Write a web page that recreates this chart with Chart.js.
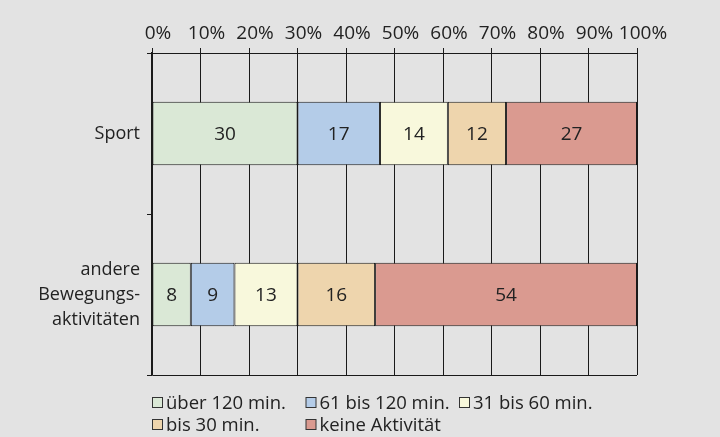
<!DOCTYPE html>
<html>
<head>
<meta charset="utf-8">
<script src="https://cdn.jsdelivr.net/npm/chart.js@4.4.1/dist/chart.umd.min.js"></script>
<style>
  html, body { margin: 0; padding: 0; background: #e3e3e3; }
  #wrap { width: 720px; height: 437px; }
</style>
</head>
<body>
<div id="wrap"><canvas id="c" width="720" height="437"></canvas></div>
<script>
const categories = ['Sport', ['andere', 'Bewegungs-', 'aktivitäten']];
const seriesNames = ['über 120 min.', '61 bis 120 min.', '31 bis 60 min.', 'bis 30 min.', 'keine Aktivität'];
const over120 = [30, 8];
const from61to120 = [17, 9];
const from31to60 = [14, 13];
const upTo30 = [12, 16];
const noActivity = [27, 54];
const xTickValues = [0, 10, 20, 30, 40, 50, 60, 70, 80, 90, 100];

const colors = ['#dae8d6', '#b4cce8', '#f8f8dc', '#eed5ad', '#da9a90'];
const FONT = '"Open Sans", "Noto Sans", sans-serif';
const TEXT = '#222222';
const LINE = '#1a1a1a';

const seriesValues = [over120, from61to120, from31to60, upTo30, noActivity];

const datasets = seriesValues.map((vals, i) => ({
  label: seriesNames[i],
  data: vals,
  backgroundColor: colors[i],
  borderColor: LINE,
  borderWidth: 1,
  borderSkipped: false,
  categoryPercentage: 1,
  barPercentage: 0.395
}));

const valueLabels = {
  id: 'valueLabels',
  afterDatasetsDraw(chart) {
    const ctx = chart.ctx;
    ctx.save();
    ctx.font = '19px ' + FONT;
    ctx.fillStyle = TEXT;
    ctx.textAlign = 'center';
    ctx.textBaseline = 'middle';
    chart.data.datasets.forEach((ds, di) => {
      const meta = chart.getDatasetMeta(di);
      meta.data.forEach((el, i) => {
        const p = el.getCenterPoint();
        ctx.fillText(String(ds.data[i]), p.x, p.y + 1);
      });
    });
    ctx.restore();
  }
};

const gridLegend = {
  id: 'gridLegend',
  afterDraw(chart) {
    const ctx = chart.ctx;
    const area = chart.chartArea;
    const colW = 153.5;
    const rowH = 22;
    const x0 = area.left;
    const y0 = area.bottom + 28;
    ctx.save();
    ctx.font = '18.5px ' + FONT;
    ctx.textBaseline = 'middle';
    ctx.textAlign = 'left';
    chart.data.datasets.forEach((ds, i) => {
      const col = i % 3, row = Math.floor(i / 3);
      const x = x0 + col * colW;
      const y = y0 + row * rowH;
      ctx.fillStyle = ds.backgroundColor;
      ctx.fillRect(x + 0.5, y - 5.5, 10, 10);
      ctx.strokeStyle = '#333';
      ctx.lineWidth = 1;
      ctx.strokeRect(x + 0.5, y - 5.5, 10, 10);
      ctx.fillStyle = TEXT;
      ctx.fillText(ds.label, x + 14, y + 1);
    });
    ctx.restore();
  }
};

new Chart(document.getElementById('c'), {
  type: 'bar',
  data: { labels: categories, datasets },
  options: {
    indexAxis: 'y',
    responsive: false,
    animation: false,
    layout: { padding: { left: 0, right: 83, top: 0, bottom: 62 } },
    plugins: {
      legend: { display: false },
      tooltip: { enabled: false }
    },
    scales: {
      x: {
        type: 'linear',
        position: 'top',
        stacked: true,
        min: 0,
        max: 100,
        afterBuildTicks(scale) { scale.ticks = xTickValues.map(v => ({ value: v })); },
        afterFit(scale) { scale.height = 53; },
        ticks: {
          callback: v => v + '%',
          color: TEXT,
          font: { family: FONT, size: 19 },
          padding: 3,
          labelOffset: 6,
          maxRotation: 0,
          autoSkip: false
        },
        grid: { color: LINE, lineWidth: 1, tickLength: 5, drawOnChartArea: true },
        border: { display: true, color: LINE, width: 1 }
      },
      y: {
        stacked: true,
        afterFit(scale) { scale.width = 152; },
        ticks: {
          color: TEXT,
          font: { family: FONT, size: 18, lineHeight: 1.39 },
          padding: 7
        },
        grid: {
          offset: true,
          drawOnChartArea: true,
          color: ctx => (ctx.index === 1 ? 'rgba(0,0,0,0)' : LINE),
          tickColor: LINE,
          tickLength: 5
        },
        border: { display: true, color: LINE, width: 1.5 }
      }
    }
  },
  plugins: [valueLabels, gridLegend]
});
</script>
</body>
</html>
